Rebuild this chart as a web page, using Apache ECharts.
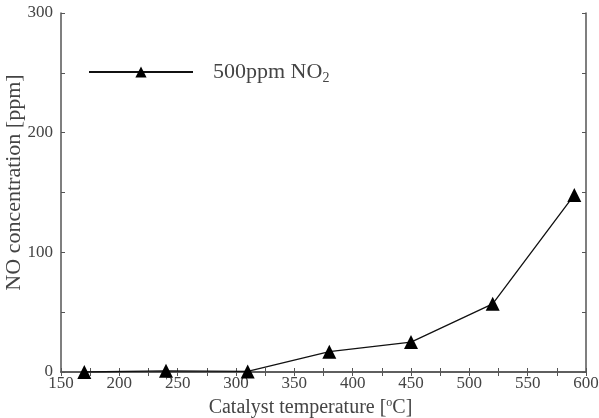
<!DOCTYPE html>
<html lang="en">
  <head>
    <meta charset="UTF-8" />
    <title>NO concentration</title>
    <script src="https://cdn.jsdelivr.net/npm/echarts@6/dist/echarts.min.js"></script>
    <style>
      body { margin: 0; background: #fff; }
    </style>
  </head>
  <body>
    <div id="main" style="width: 599px; height: 418px"></div>
    <script type="text/javascript">
      // values
      const temps = [170, 240, 310, 380, 450, 520, 590];
      const noPpm = [0, 1, 0.5, 17, 25, 57, 148];
      const seriesName = "500ppm NO2";

      const font = "Liberation Serif";
      const axisColor = "#555";
      const textColor = "#444";

      let myChart = echarts.init(document.getElementById("main"));

      let options = {
        animation: false,
        grid: { left: 61, right: 13, top: 13, bottom: 46, outerBoundsMode: "none" },
        legend: {
          left: 83,
          top: 56,
          itemWidth: 104,
          itemHeight: 14,
          data: [seriesName],
          formatter: () => "{a|500ppm NO}{s|2}",
          textStyle: {
            padding: [0, 0, 0, 15],
            rich: {
              a: { fontFamily: font, fontSize: 22, color: textColor },
              s: { fontFamily: font, fontSize: 14, color: textColor, padding: [12, 0, 0, 0] },
            },
          },
        },
        xAxis: [
          {
            type: "value",
            min: 150,
            max: 600,
            interval: 50,
            name: "{a|Catalyst temperature [}{s|o}{a|C]}",
            nameLocation: "middle",
            nameGap: 22,
            nameTextStyle: {
              padding: [0, 26, 0, 0],
              rich: {
                a: { fontFamily: font, fontSize: 20, color: textColor },
                s: { fontFamily: font, fontSize: 12, color: textColor, padding: [0, 0, 10, 0] },
              },
            },
            axisLine: { lineStyle: { color: axisColor, width: 1.5 } },
            axisTick: { inside: true, length: 4, lineStyle: { color: axisColor } },
            minorTick: { show: true, splitNumber: 2, length: 4, lineStyle: { color: axisColor } },
            axisLabel: { fontFamily: font, fontSize: 17, color: textColor, margin: 3 },
            splitLine: { show: false },
          },
          {
            type: "value",
            position: "top",
            min: 150,
            max: 600,
            interval: 50,
            axisLine: { show: true, lineStyle: { color: axisColor, width: 1.5 } },
            axisTick: { inside: true, length: 4, lineStyle: { color: axisColor } },
            minorTick: { show: true, splitNumber: 2, length: 4, lineStyle: { color: axisColor } },
            axisLabel: { show: false },
            splitLine: { show: false },
          },
        ],
        yAxis: [
          {
            type: "value",
            min: 0,
            max: 300,
            interval: 100,
            name: "NO concentration [ppm]",
            nameLocation: "middle",
            nameGap: 36,
            nameMoveOverlap: false,
            nameTextStyle: { fontFamily: font, fontSize: 22, color: textColor, padding: [0, 0, 0, 20] },
            axisLine: { show: true, lineStyle: { color: axisColor, width: 1.5 } },
            axisTick: { inside: true, length: 4, lineStyle: { color: axisColor } },
            minorTick: { show: true, splitNumber: 2, length: 4, lineStyle: { color: axisColor } },
            axisLabel: { fontFamily: font, fontSize: 17, color: textColor, margin: 8 },
            splitLine: { show: false },
          },
          {
            type: "value",
            position: "right",
            min: 0,
            max: 300,
            interval: 100,
            axisLine: { show: true, lineStyle: { color: axisColor, width: 1.5 } },
            axisTick: { inside: true, length: 4, lineStyle: { color: axisColor } },
            minorTick: { show: true, splitNumber: 2, length: 4, lineStyle: { color: axisColor } },
            axisLabel: { show: false },
            splitLine: { show: false },
          },
        ],
        series: [
          {
            name: seriesName,
            type: "line",
            data: temps.map((t, i) => [t, noPpm[i]]),
            symbol: "triangle",
            symbolSize: 14,
            lineStyle: { color: "#111", width: 1.3 },
            itemStyle: { color: "#000" },
          },
        ],
      };

      myChart.setOption(options);
    </script>
  </body>
</html>
